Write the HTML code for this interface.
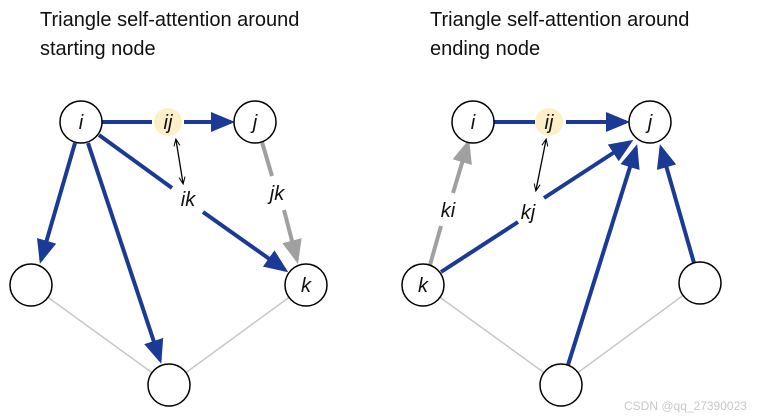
<!DOCTYPE html>
<html><head><meta charset="utf-8"><style>
body{margin:0;background:#fff;width:778px;height:418px;overflow:hidden}
svg{display:block}
text{font-family:"Liberation Sans",sans-serif}
.t{font-size:20px;fill:#111}
.l{font-size:20px;font-style:italic;fill:#111}
</style></head><body>
<svg width="778" height="418" viewBox="0 0 778 418">
<defs>
<marker id="b" markerWidth="6" markerHeight="5" refX="5" refY="2.5" orient="auto" markerUnits="strokeWidth"><path d="M0,0L6,2.5L0,5z" fill="#1a3a96"/></marker>
<marker id="g" markerWidth="6" markerHeight="5" refX="5" refY="2.5" orient="auto" markerUnits="strokeWidth"><path d="M0,0L6,2.5L0,5z" fill="#a0a0a0"/></marker>
<marker id="k" markerWidth="8" markerHeight="8" refX="6" refY="4" orient="auto-start-reverse" markerUnits="userSpaceOnUse"><path d="M0,1L7,4L0,7" fill="none" stroke="#000" stroke-width="1"/></marker>
</defs>
<text class="t" x="40" y="26">Triangle self-attention around</text>
<text class="t" x="40" y="55">starting node</text>
<text class="t" x="430" y="26">Triangle self-attention around</text>
<text class="t" x="430" y="55">ending node</text>

<g stroke="#c8c8c8" stroke-width="1.5">
<line x1="31" y1="285" x2="169" y2="385"/><line x1="306" y1="285" x2="169" y2="385"/>
<line x1="423" y1="285" x2="561" y2="385"/><line x1="700" y1="283" x2="561" y2="385"/>
</g>

<g stroke="#1a3a96" stroke-width="4" fill="none">
<line x1="102" y1="122" x2="152" y2="122"/>
<line x1="184" y1="122" x2="231" y2="122" marker-end="url(#b)"/>
<line x1="75" y1="143" x2="41" y2="260" marker-end="url(#b)"/>
<line x1="88" y1="143" x2="160" y2="360" marker-end="url(#b)"/>
<line x1="99" y1="135" x2="172" y2="188"/>
<line x1="203" y1="212" x2="285" y2="270" marker-end="url(#b)"/>
</g>
<g stroke="#a0a0a0" stroke-width="4">
<line x1="262" y1="142" x2="272" y2="176"/>
<line x1="284" y1="210" x2="297" y2="260" marker-end="url(#g)"/>
</g>
<line x1="176" y1="140" x2="183" y2="183" stroke="#000" stroke-width="1.3" marker-start="url(#k)" marker-end="url(#k)"/>
<circle cx="168" cy="122" r="14" fill="#fdefc8"/>
<g fill="#fff" stroke="#000" stroke-width="1.5">
<circle cx="81" cy="122" r="21"/><circle cx="255" cy="122" r="21"/><circle cx="306" cy="285" r="21"/>
<circle cx="31" cy="285" r="21"/><circle cx="169" cy="385" r="21"/>
</g>
<text class="l" x="81" y="129" text-anchor="middle">i</text>
<text class="l" x="168" y="129" text-anchor="middle">ij</text>
<text class="l" x="255" y="129" text-anchor="middle">j</text>
<text class="l" x="306" y="292" text-anchor="middle">k</text>
<text class="l" x="188" y="206" text-anchor="middle">ik</text>
<text class="l" x="277" y="200" text-anchor="middle">jk</text>

<g stroke="#1a3a96" stroke-width="4" fill="none">
<line x1="494" y1="122" x2="535" y2="122"/>
<line x1="566" y1="122" x2="626" y2="122" marker-end="url(#b)"/>
<line x1="441" y1="272" x2="518" y2="222"/>
<line x1="544" y1="198" x2="630" y2="142" marker-end="url(#b)"/>
<line x1="568" y1="365" x2="636" y2="148" marker-end="url(#b)"/>
<line x1="694" y1="263" x2="661" y2="148" marker-end="url(#b)"/>
</g>
<g stroke="#a0a0a0" stroke-width="4">
<line x1="430" y1="265" x2="441" y2="226"/>
<line x1="453" y1="193" x2="468" y2="143" marker-end="url(#g)"/>
</g>
<line x1="546" y1="140" x2="536" y2="190" stroke="#000" stroke-width="1.3" marker-start="url(#k)" marker-end="url(#k)"/>
<circle cx="549" cy="122" r="14" fill="#fdefc8"/>
<g fill="#fff" stroke="#000" stroke-width="1.5">
<circle cx="473" cy="122" r="21"/><circle cx="650" cy="122" r="21"/><circle cx="423" cy="285" r="21"/>
<circle cx="700" cy="283" r="21"/><circle cx="561" cy="385" r="21"/>
</g>
<text class="l" x="473" y="129" text-anchor="middle">i</text>
<text class="l" x="549" y="129" text-anchor="middle">ij</text>
<text class="l" x="650" y="129" text-anchor="middle">j</text>
<text class="l" x="423" y="292" text-anchor="middle">k</text>
<text class="l" x="448" y="217" text-anchor="middle">ki</text>
<text class="l" x="528" y="219" text-anchor="middle">kj</text>

<text x="624" y="410" font-size="12" fill="#c8c8c8">CSDN @qq_27390023</text>
</svg>
</body></html>
